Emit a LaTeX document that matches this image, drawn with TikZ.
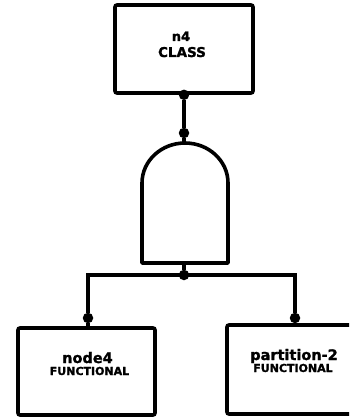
\documentclass[tikz,border=0pt]{standalone}
\usepackage{fontspec}
\setmainfont{DejaVu Sans}[BoldFeatures={FakeBold=1.5}]
\begin{document}
\begin{tikzpicture}[x=1pt,y=-1pt,
  wire/.style={line width=3.4pt},
  frame/.style={draw,line width=3.6pt,rounded corners=2pt,inner sep=0pt},
  joint/.style={circle,fill=black,inner sep=0pt,minimum size=10.5pt},
  nametext/.style={font=\bfseries\fontsize{14.5}{14.5}\selectfont,inner sep=0pt},
  kindtext/.style={font=\bfseries\fontsize{11}{11}\selectfont,inner sep=0pt},
]
\clip (0,0) rectangle (349,417);
\fill[white] (0,0) rectangle (349,417);

% component boxes
\node[frame,minimum width=138pt,minimum height=88pt] (top) at (184,49) {};
\node[frame,minimum width=137pt,minimum height=87pt] (left) at (86.5,371.5) {};
\node[frame,minimum width=130pt,minimum height=89pt] (right) at (292,369.5) {};

% box captions
\node[nametext,font=\bfseries\fontsize{13}{13}\selectfont,anchor=base] (topname) at (181,41) {n4};
\node[kindtext,font=\bfseries\fontsize{13.5}{13.5}\selectfont,anchor=base] (topkind) at (182,57) {CLASS};
\node[nametext,anchor=base] (leftname) at (87.5,363) {node4};
\node[kindtext,anchor=base] (leftkind) at (89.5,375) {FUNCTIONAL};
\node[nametext,anchor=base] (rightname) at (294,360) {partition-2};
\node[kindtext,anchor=base] (rightkind) at (293,372) {FUNCTIONAL};

% AND gate body
\coordinate (gtop) at (185,143);
\coordinate (gbot) at (185,263);
\draw[line width=3.6pt,line join=round] (142,263) -- (142,183)
  arc[start angle=180,end angle=360,x radius=43,y radius=40] -- (228,263) -- cycle;

% joints
\node[joint] (jtop) at (top.south) {};
\node[joint] (jgate) at (184,133) {};
\node[joint] (jbus) at (184,275) {};
\node[joint] (jleft) at (88,318) {};
\node[joint] (jright) at (295,318) {};
\coordinate (busl) at (88,275);
\coordinate (busr) at (295,275);

% connectors
\draw[wire] (jtop) -- (jgate) -- (jgate |- gtop);
\draw[wire] (jgate |- gbot) -- (jbus);
\draw[wire,line join=miter] (jleft) -- (busl) -- (busr) -- (jright);
\draw[wire] (jleft) -- (jleft |- left.north);
\draw[wire] (jright) -- (jright |- right.north);
\end{tikzpicture}
\end{document}
